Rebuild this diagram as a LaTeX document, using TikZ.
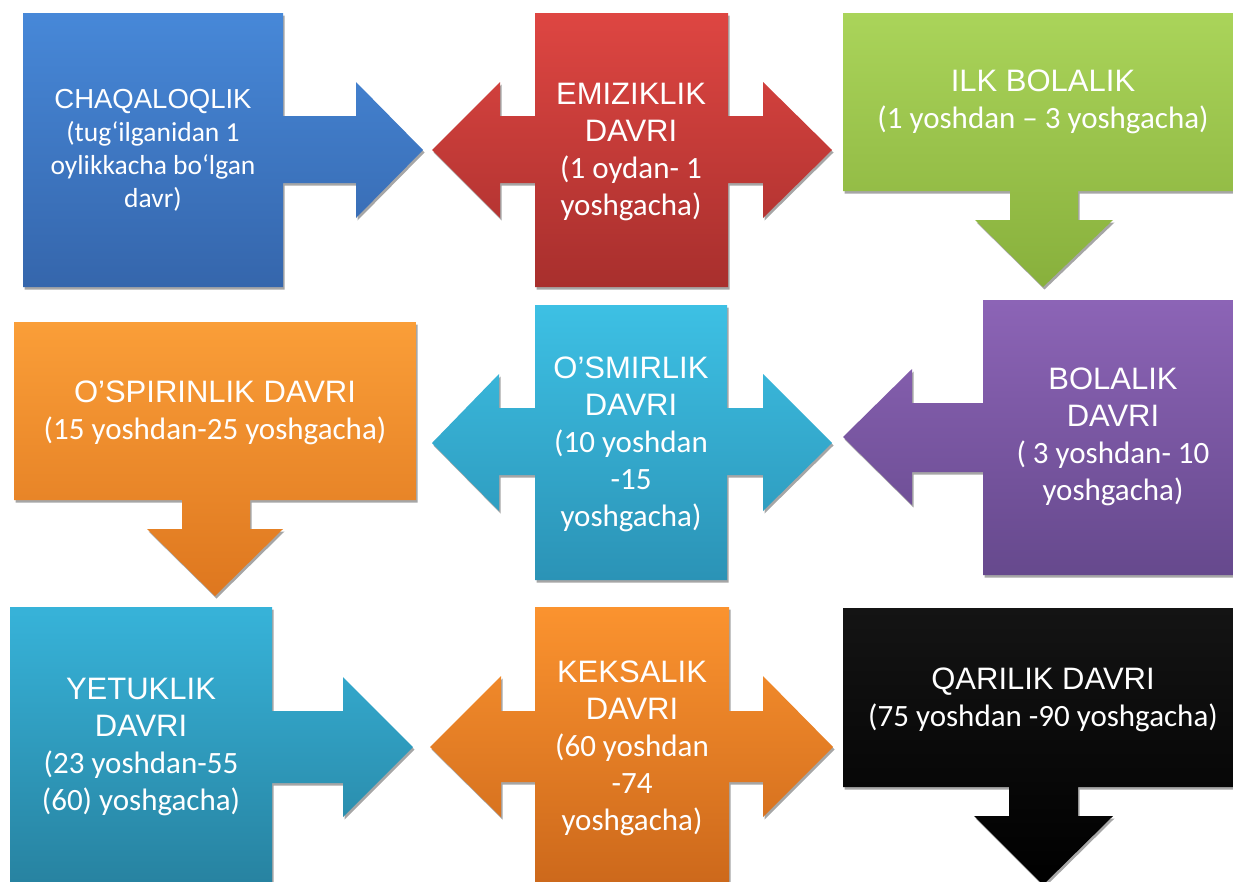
\documentclass[tikz,border=0pt]{standalone}
\usepackage{fontspec}
\setmainfont{Carlito}
\newfontfamily\arialf{Liberation Sans}
\newfontfamily\calibf{Carlito}
\usetikzlibrary{shadows}
\definecolor{blueT}{HTML}{4788D8}\definecolor{blueB}{HTML}{3566AC}
\definecolor{redT}{HTML}{DE4642}\definecolor{redB}{HTML}{A82F2D}
\definecolor{greenT}{HTML}{AAD45A}\definecolor{greenB}{HTML}{88B03C}
\definecolor{oraT}{HTML}{FA9E38}\definecolor{oraB}{HTML}{DE771F}
\definecolor{cyanT}{HTML}{3DC0E4}\definecolor{cyanB}{HTML}{2B93B6}
\definecolor{purT}{HTML}{8C64B6}\definecolor{purB}{HTML}{66498D}
\definecolor{blkT}{HTML}{141414}\definecolor{blkB}{HTML}{000000}
\definecolor{cyan2T}{HTML}{37B3D9}\definecolor{cyan2B}{HTML}{2782A0}
\definecolor{ora2T}{HTML}{FB932F}\definecolor{ora2B}{HTML}{CC681B}
\tikzset{
  shp/.style 2 args={shade, top color=#1, bottom color=#2,
    drop shadow={shadow xshift=1.5pt, shadow yshift=-2.5pt, opacity=0.35, fill=black}},
  lbl/.style={text=white, align=center, inner sep=0pt, font=\fontsize{31}{37}\selectfont},
  lblsmall/.style={text=white, align=center, inner sep=0pt, font=\fontsize{27.5}{33}\selectfont},
}
\begin{document}
\begin{tikzpicture}[x=1pt,y=-1pt]
\fill[white] (0,0) rectangle (1233,881);
\clip (0,0) rectangle (1233,881);
% row 1
\path[shp={blueT}{blueB}] (23,13) -- (283,13) -- (283,116) -- (356,116) -- (356,82) -- (423,150)
  -- (356,218) -- (356,183) -- (283,183) -- (283,287) -- (23,287) -- cycle;
\path[shp={redT}{redB}] (535,13) -- (728,13) -- (728,116) -- (763,116) -- (763,82) -- (832,150)
  -- (763,218) -- (763,183) -- (728,183) -- (728,287) -- (535,287) -- (535,183) -- (500,183)
  -- (500,218) -- (432,150) -- (500,82) -- (500,116) -- (535,116) -- cycle;
\path[shp={greenT}{greenB}] (843,13) -- (1243,13) -- (1243,191) -- (1078,191) -- (1078,220)
  -- (1113,220) -- (1043,287) -- (975,220) -- (1010,220) -- (1010,191) -- (843,191) -- cycle;
% row 2
\path[shp={oraT}{oraB}] (14,322) -- (416,322) -- (416,500) -- (250,500) -- (250,529) -- (283,529)
  -- (215,596) -- (147,529) -- (182,529) -- (182,500) -- (14,500) -- cycle;
\path[shp={cyanT}{cyanB}] (535,305) -- (727,305) -- (727,408) -- (763,408) -- (763,374) -- (832,443)
  -- (763,511) -- (763,475) -- (727,475) -- (727,580) -- (535,580) -- (535,475) -- (499,475)
  -- (499,511) -- (432,443) -- (499,374) -- (499,408) -- (535,408) -- cycle;
\path[shp={purT}{purB}] (983,300) -- (1243,300) -- (1243,575) -- (983,575) -- (983,472) -- (912,472)
  -- (912,505) -- (843,437) -- (912,369) -- (912,403) -- (983,403) -- cycle;
% row 3
\path[shp={cyan2T}{cyan2B}] (10,607) -- (272,607) -- (272,711) -- (343,711) -- (343,677) -- (413,747)
  -- (343,817) -- (343,783) -- (272,783) -- (272,887) -- (10,887) -- cycle;
\path[shp={ora2T}{ora2B}] (535,607) -- (729,607) -- (729,711) -- (763,711) -- (763,676) -- (833,747)
  -- (763,817) -- (763,782) -- (729,782) -- (729,887) -- (535,887) -- (535,782) -- (501,782)
  -- (501,817) -- (430,747) -- (501,676) -- (501,711) -- (535,711) -- cycle;
\path[shp={blkT}{blkB}] (843,608) -- (1243,608) -- (1243,787) -- (1078,787) -- (1078,816) -- (1113,816)
  -- (1043,885) -- (974,816) -- (1009,816) -- (1009,787) -- (843,787) -- cycle;
% labels
\node[lblsmall] (chaqaloq) at (153,150) {\arialf CHAQALOQLIK\\(tug‘ilganidan 1\\oylikkacha bo‘lgan\\davr)};
\node[lbl] (emizik) at (631,152) {\arialf EMIZIKLIK\\\arialf DAVRI\\(1 oydan- 1\\yoshgacha)};
\node[lbl] (ilk) at (1043,102) {\arialf ILK BOLALIK\\(1 yoshdan – 3 yoshgacha)};
\node[lbl] (ospirin) at (215,413) {\arialf O’SPIRINLIK DAVRI\\(15 yoshdan-25 yoshgacha)};
\node[lbl] (osmir) at (631,444) {\arialf O’SMIRLIK\\\arialf DAVRI\\(10 yoshdan\\-15\\yoshgacha)};
\node[lbl] (bolalik) at (1113,437) {\arialf BOLALIK\\\arialf DAVRI\\( 3 yoshdan- 10\\yoshgacha)};
\node[lbl] (yetuk) at (141,747) {\arialf YETUKLIK\\\arialf DAVRI\\(23 yoshdan-55\\(60) yoshgacha)};
\node[lbl] (keksa) at (632,748) {\arialf KEKSALIK\\\arialf DAVRI\\(60 yoshdan\\-74\\yoshgacha)};
\node[lbl] (qari) at (1043,700) {\arialf QARILIK DAVRI\\(75 yoshdan -90 yoshgacha)};
\end{tikzpicture}
\end{document}
